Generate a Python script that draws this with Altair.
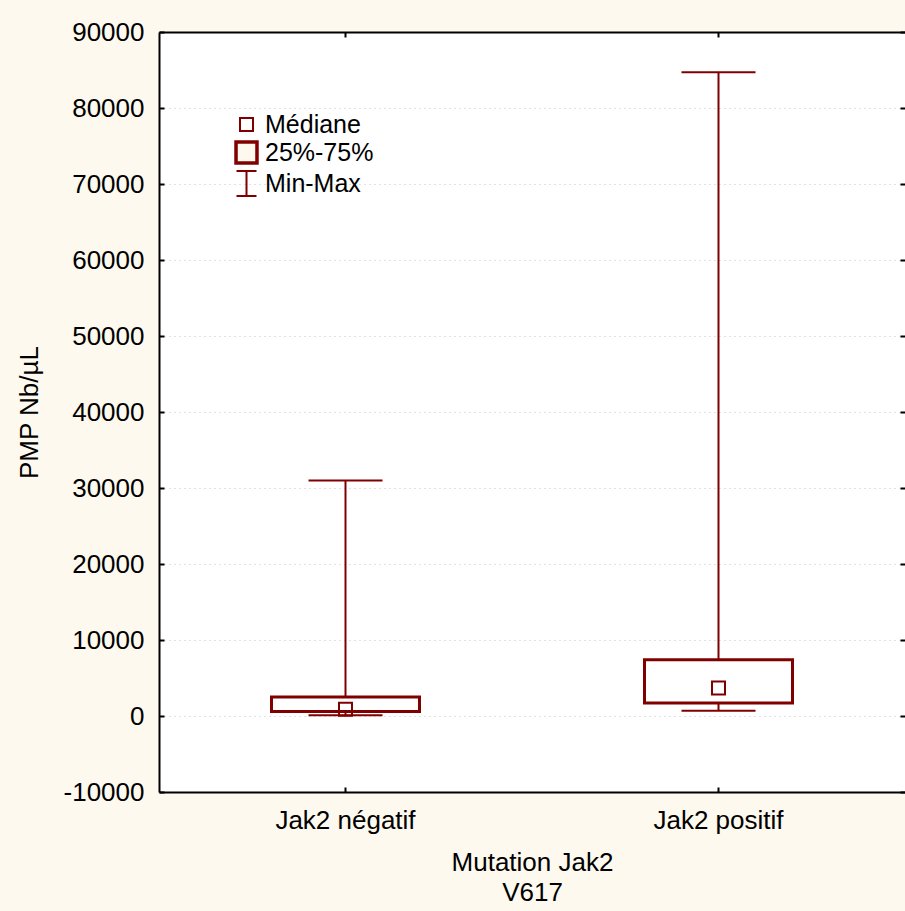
import altair as alt
import pandas as pd

# Box-plot summary per group (PMP count per µL)
groups = ["Jak2 négatif", "Jak2 positif"]
minimum = [100, 700]
q1 = [600, 1700]
median = [900, 3700]
q3 = [2500, 7400]
maximum = [31000, 84700]

legend_keys = ["Médiane", "25%-75%", "Min-Max"]
y_ticks = list(range(-10000, 90001, 10000))

RED = "#800000"
CREAM = "#FDF9EE"
FONT = "Liberation Sans"
FS = 26

df = pd.DataFrame({
    "group": groups,
    "lo": minimum,
    "q1": q1,
    "med": median,
    "q3": q3,
    "hi": maximum,
})
df["key"] = legend_keys[0]

x_scale = alt.Scale(domain=groups, paddingInner=0, paddingOuter=0)
y_scale = alt.Scale(domain=[-10000, 90000], nice=False, zero=False)

AXIS_LINE = dict(domain=True, domainColor="black", domainWidth=2)

# main axes: labels, titles, grid and the left/bottom frame lines
x_main = alt.Axis(orient="bottom", labelAngle=0, ticks=False,
                  labelPadding=15, titlePadding=16, titleLineHeight=30, **AXIS_LINE)
y_main = alt.Axis(orient="left", ticks=False, grid=True,
                  values=y_ticks, labelExpr="datum.value + ''",
                  gridDash=[1, 4], gridColor="#c4c4c4", gridWidth=1,
                  labelPadding=15, titlePadding=21, **AXIS_LINE)


def tick_axis(orient, offset, values=None, domain=False):
    """Axis drawn on the opposite edge so that its ticks point into the plot."""
    kw = dict(orient=orient, offset=offset, labels=False, grid=False,
              ticks=True, tickSize=5, tickColor="black", tickWidth=2, title=None)
    if domain:
        kw.update(AXIS_LINE)
    else:
        kw["domain"] = False
    if values is not None:
        kw["values"] = values
    return alt.Axis(**kw)


base = alt.Chart(df)

whisker = base.mark_rule(color=RED, strokeWidth=2).encode(
    x=alt.X("group:N", scale=x_scale, axis=x_main, title=["Mutation Jak2", "V617"]),
    y=alt.Y("lo:Q", scale=y_scale, axis=y_main, title="PMP Nb/µL"),
    y2="hi:Q",
)

cap_lo = base.mark_tick(color=RED, size=74, thickness=2, opacity=1).encode(
    x=alt.X("group:N", scale=x_scale, axis=tick_axis("top", -760)),
    y=alt.Y("lo:Q", scale=y_scale, axis=tick_axis("right", -746, y_ticks)),
)

cap_hi = base.mark_tick(color=RED, size=74, thickness=2, opacity=1).encode(
    x=alt.X("group:N", scale=x_scale, axis=tick_axis("bottom", -760, domain=True)),
    y=alt.Y("hi:Q", scale=y_scale, axis=tick_axis("left", -746, y_ticks)),
)

box = base.mark_bar(size=148, fill="white", stroke=RED, strokeWidth=3).encode(
    x=alt.X("group:N", scale=x_scale, axis=None),
    y=alt.Y("q1:Q", scale=y_scale, axis=None),
    y2="q3:Q",
)

legend = alt.Legend(
    orient="none", legendX=74, legendY=80, title=None, padding=0,
    labelFont=FONT, labelFontSize=FS - 1, labelColor="black", labelOffset=5,
    rowPadding=-3,
)

med = base.mark_point(filled=False, color=RED, opacity=1).encode(
    x=alt.X("group:N", scale=x_scale, axis=None),
    y=alt.Y("med:Q", scale=y_scale, axis=None),
    shape=alt.Shape("key:N", scale=alt.Scale(
        domain=legend_keys,
        range=["square", "square", "M-0.8,-1H0.8M0,-1V1M-0.8,1H0.8"]), legend=legend),
    size=alt.Size("key:N", scale=alt.Scale(type="ordinal", domain=legend_keys,
                                           range=[169, 440, 625]), legend=legend),
    strokeWidth=alt.StrokeWidth("key:N", scale=alt.Scale(type="ordinal", domain=legend_keys,
                                                         range=[2, 3.5, 2]), legend=legend),
    fill=alt.Fill("key:N", scale=alt.Scale(domain=legend_keys,
                                           range=["transparent", CREAM, "transparent"]),
                  legend=legend),
)

chart = (
    alt.layer(whisker, cap_lo, cap_hi, box, med)
    .resolve_axis(x="independent", y="independent")
    .resolve_scale(x="shared", y="shared")
    .properties(
        width=746, height=760,
        autosize=alt.AutoSizeParams(type="none"),
        padding={"left": 159, "top": 32, "right": 0, "bottom": 119},
        background=CREAM,
    )
    .configure_view(fill="white", stroke=None)
    .configure_axis(
        labelFont=FONT, labelFontSize=FS, labelColor="black",
        titleFont=FONT, titleFontSize=FS, titleColor="black", titleFontWeight="normal",
    )
)

chart.save("out.html", embed_options={"renderer": "svg", "actions": False})
